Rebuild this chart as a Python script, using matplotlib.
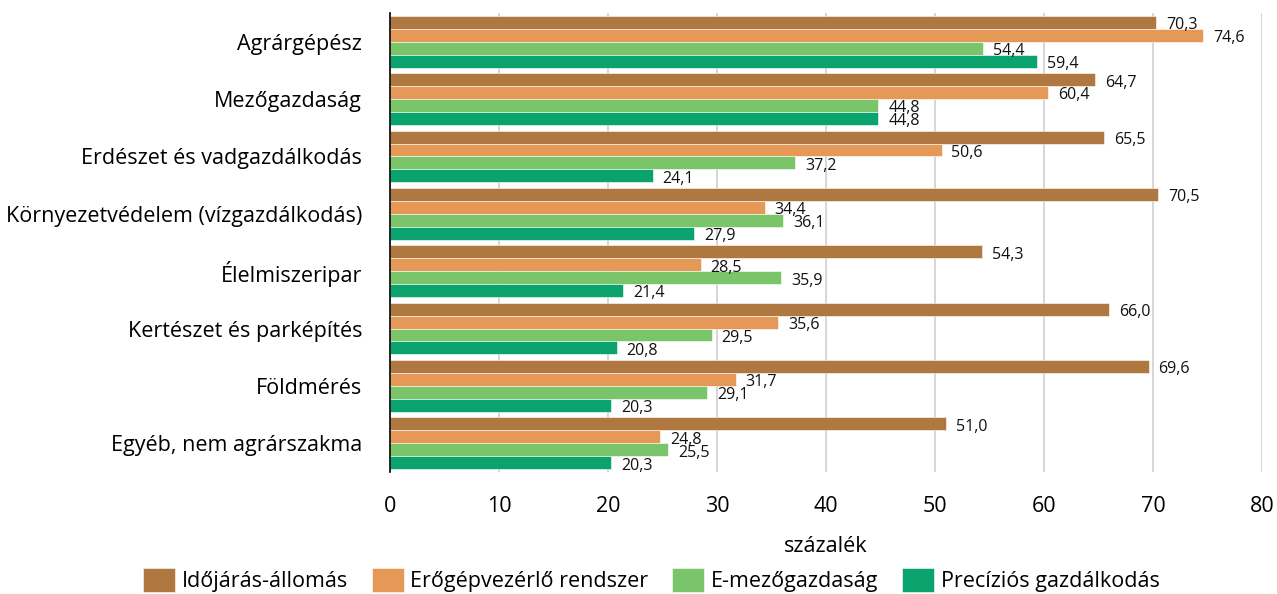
import matplotlib
matplotlib.use('Agg')
import matplotlib.pyplot as plt
import numpy as np

plt.rcParams['font.family'] = ['Open Sans', 'DejaVu Sans']

# adatok
kategoriak = ['Agrárgépész', 'Mezőgazdaság', 'Erdészet és vadgazdálkodás',
              'Környezetvédelem (vízgazdálkodás)', 'Élelmiszeripar',
              'Kertészet és parképítés', 'Földmérés', 'Egyéb, nem agrárszakma']
idojaras = [70.3, 64.7, 65.5, 70.5, 54.3, 66.0, 69.6, 51.0]
erogep = [74.6, 60.4, 50.6, 34.4, 28.5, 35.6, 31.7, 24.8]
emezo = [54.4, 44.8, 37.2, 36.1, 35.9, 29.5, 29.1, 25.5]
precizios = [59.4, 44.8, 24.1, 27.9, 21.4, 20.8, 20.3, 20.3]

sorozatok = ['Időjárás-állomás', 'Erőgépvezérlő rendszer', 'E-mezőgazdaság', 'Precíziós gazdálkodás']
szinek = ['#AE7840', '#E69856', '#7AC46A', '#0BA36D']

fig = plt.figure(figsize=(12.77, 5.94), dpi=100)
ax = fig.add_axes([390/1277, 1 - 472/594, (1262-390)/1277, (472-13)/594])

n = len(kategoriak)
y = np.arange(n)
h = 0.225
for j, (vals, nev, szin) in enumerate(zip([idojaras, erogep, emezo, precizios], sorozatok, szinek)):
    pos = y + (j - 1.5) * h
    ax.barh(pos, vals, height=h, color=szin, label=nev, edgecolor='white', linewidth=0.4, zorder=2)
    for p, v in zip(pos, vals):
        ax.text(v + 0.9, p + 0.05, f'{v:.1f}'.replace('.', ','), va='center', ha='left',
                fontsize=11.5, color='#111111')

ax.set_ylim(n - 0.5, -0.5)
ax.set_xlim(0, 80)
ax.set_xticks(range(0, 81, 10))
ax.set_yticks(y)
ax.set_yticklabels(kategoriak, fontsize=15.5)
ax.tick_params(axis='y', length=0, pad=20)
ax.tick_params(axis='x', length=0, labelsize=15.5, pad=17)
ax.xaxis.grid(True, color='#d0d0d0', linewidth=1.2, zorder=0)
ax.set_axisbelow(True)
for s in ['top', 'right', 'bottom']:
    ax.spines[s].set_visible(False)
ax.spines['left'].set_color('black')
ax.spines['left'].set_linewidth(1.2)
ax.spines['left'].set_zorder(3)
ax.set_xlabel('százalék', fontsize=15.5, labelpad=14)

fig.legend(loc='lower center', bbox_to_anchor=(0.51, -0.03), ncol=4, frameon=False,
           fontsize=15.5, handlelength=1.5, handleheight=1.4, columnspacing=1.1, handletextpad=0.3)

fig.savefig('out.png', dpi=100)
